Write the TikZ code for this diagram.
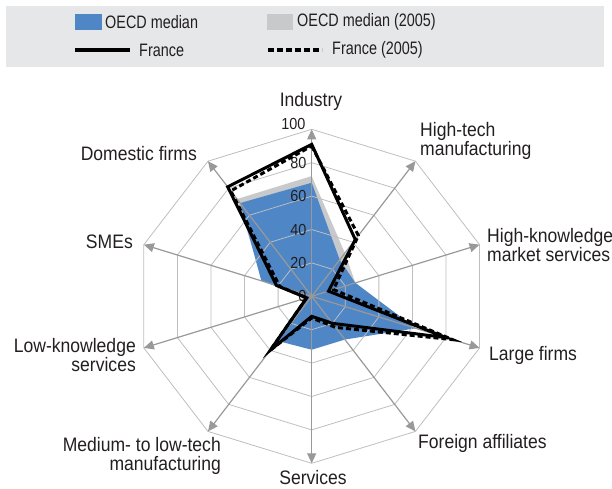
\documentclass[tikz,border=0pt]{standalone}
\usepackage{fontspec}
\setmainfont{Liberation Sans}[FakeStretch=0.9]
\newfontfamily\legendfont{Liberation Sans}[FakeStretch=0.8]
\usetikzlibrary{arrows.meta}
\definecolor{oecdblue}{HTML}{4F86C6}
\definecolor{oecdgray}{HTML}{C8C9CA}
\definecolor{legendbg}{HTML}{E6E7E8}
\definecolor{gridgray}{HTML}{BEBEBE}
\definecolor{spokegray}{HTML}{999999}
\definecolor{textgray}{HTML}{231F20}
\tikzset{ring/.style={draw=gridgray,line width=0.8pt},
         spoke/.style={draw=spokegray,line width=1.2pt,-{Triangle[length=10pt,width=9pt]}},
         france/.style={line width=3pt,line join=miter},
         france05/.style={france,dash pattern=on 5pt off 3pt},
         axislabel/.style={font=\fontsize{19.5}{18.5}\selectfont,text=textgray,inner sep=0pt,align=left},
         ticklabel/.style={font=\fontsize{16}{16}\selectfont,text=textgray,inner sep=0pt,anchor=east},
         legtext/.style={font=\legendfont\fontsize{18}{18}\selectfont,text=textgray,inner sep=0pt,anchor=west},
         }

\begin{document}
\begin{tikzpicture}[x=1pt,y=1pt]
\useasboundingbox (0,0) rectangle (612,-489);
% legend
\fill[legendbg] (6,-6) rectangle (604,-67);
\fill[oecdblue] (75,-14) rectangle (102,-30);
\node[legtext] (lgblue) at (105,-22) {OECD median};
\fill[oecdgray] (267,-14) rectangle (293,-30);
\node[legtext] (lggray) at (297,-22) {OECD median (2005)};
\draw[france,line width=3.3pt] (75,-50) -- (130,-50);
\node[legtext] (lgfr) at (139,-50) {France};
\draw[france05,line width=3.3pt,dash pattern=on 6pt off 3pt] (268,-50) -- (322,-50);
\node[legtext] (lgfr05) at (332,-50) {France (2005)};

\begin{scope}[shift={(311.7,-296.3)},x=1.765pt,y=1.67pt]
\coordinate (ctr) at (0,0);
\foreach \k in {0,...,9} \coordinate (ax\k) at ({90-36*\k}:100);
\foreach \v [count=\i from 0] in {72,32,26,60,31,31,31,3,29,72}
  \coordinate (g\i) at ({90-36*\i}:\v);
\foreach \v [count=\i from 0] in {68,27,26,62,32,32,33,3,30,69}
  \coordinate (b\i) at ({90-36*\i}:\v);
\foreach \v [count=\i from 0] in {90,45,13,84,23,13,40,3,19,78}
  \coordinate (d\i) at ({90-36*\i}:\v);
\foreach \v [count=\i from 0] in {91,42,10,80,20,12,40,3,21,81}
  \coordinate (f\i) at ({90-36*\i}:\v);

\fill[oecdgray] (g0) \foreach \i in {1,...,9}{ -- (g\i)} -- cycle;
\fill[oecdblue] (b0) \foreach \i in {1,...,9}{ -- (b\i)} -- cycle;

\foreach \r in {20,40,...,100}
  \draw[ring] (90:\r) \foreach \k in {1,...,9}{ -- ({90-36*\k}:\r)} -- cycle;
\foreach \k in {0,...,9} \draw[spoke] (ctr) -- (ax\k);

\foreach \t in {0,20,...,80} \node[ticklabel,xshift=-5pt] (tk\t) at (0,\t) {\t};
\node[ticklabel,xshift=-6pt,yshift=5pt] (tk100) at (0,100) {100};

\draw[france05] (d0) \foreach \i in {1,...,9}{ -- (d\i)} -- cycle;
\draw[france] (f0) \foreach \i in {1,...,9}{ -- (f\i)} -- cycle;
\end{scope}

\node[axislabel] (ind) at (311,-101) {Industry};
\node[axislabel,anchor=west] (htm) at (420,-141) {High-tech\\manufacturing};
\node[axislabel,anchor=west] (hkm) at (487,-245) {High-knowledge\\market services};
\node[axislabel,anchor=west] (lrg) at (489,-355) {Large firms};
\node[axislabel,anchor=west] (frn) at (418,-443) {Foreign affiliates};
\node[axislabel] (srv) at (313,-478) {Services};
\node[axislabel,anchor=east,align=right] (mlt) at (221,-456) {Medium- to low-tech\\manufacturing};
\node[axislabel,anchor=east,align=right] (lks) at (136,-355) {Low-knowledge\\services};
\node[axislabel,anchor=east] (sme) at (133,-242) {SMEs};
\node[axislabel,anchor=east] (dom) at (197,-154) {Domestic firms};
\end{tikzpicture}
\end{document}
